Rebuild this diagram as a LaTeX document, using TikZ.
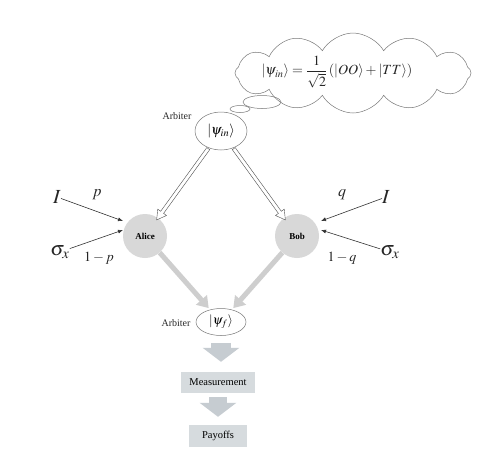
\documentclass[tikz,border=0pt]{standalone}
\usepackage{mathptmx}
\usepackage[no-math]{fontspec}
\setmainfont{Liberation Serif}
\usetikzlibrary{shapes.geometric,shapes.symbols,shapes.arrows,arrows.meta,calc}
\definecolor{nodegray}{RGB}{216,216,216}
\definecolor{arrgray}{RGB}{206,206,206}
\definecolor{boxgray}{RGB}{214,219,222}
\definecolor{blockgray}{RGB}{198,204,209}
\definecolor{linegray}{RGB}{120,120,120}
\tikzset{
 state/.style={ellipse, draw=linegray, line width=0.5pt, inner sep=0pt},
 player/.style={circle, fill=nodegray, minimum size=44pt, inner sep=0pt, font=\fontsize{9}{10}\selectfont\bfseries},
 hollowarrow/.style={single arrow, draw=black!70, fill=white, line width=0.4pt, text height=0pt, text depth=0pt, inner sep=1.6pt, single arrow head extend=3.6pt, single arrow tip angle=60, single arrow head indent=0pt, sloped, allow upside down, midway, anchor=center},
 grayarrow/.style={draw=arrgray, line width=5pt, shorten >=2pt, -{Triangle[length=11pt,width=14pt]}},
 thinarrow/.style={draw=black!80, line width=0.6pt, -{Latex[length=5pt,width=4pt]}},
 blockarrow/.style={draw=blockgray, -{Triangle[length=14pt,width=36pt]}},
 outbox/.style={rectangle, fill=boxgray, inner sep=0pt, font=\fontsize{10.5}{12}\selectfont},
 lbl/.style={inner sep=0pt, text=black!85},
}
\begin{document}
\begin{tikzpicture}[x=1pt,y=-1pt]
\fill[white] (0,0) rectangle (478,474);
\useasboundingbox (0,0) rectangle (478,474);
% thought cloud
\node[cloud, cloud puffs=12, cloud puff arc=120, cloud ignores aspect, draw=linegray, line width=0.5pt, minimum width=236pt, minimum height=80pt] (cloud) at (353,73) {};
\node[lbl, font=\fontsize{14}{16}\selectfont] (eq) at (337,72) {$\displaystyle |\psi_{in}\rangle=\frac{1}{\sqrt{2}}\left(|OO\rangle+|TT\rangle\right)$};
\node[state, minimum width=38pt, minimum height=13pt] (bub1) at (262,102) {};
\node[state, minimum width=20pt, minimum height=7pt] (bub2) at (240,109) {};
% arbiters
\node[state, minimum width=52pt, minimum height=38pt, font=\fontsize{14}{16}\selectfont] (top) at (221,131) {$|\psi_{in}\rangle$};
\node[lbl, font=\fontsize{10}{12}\selectfont] (arb1) at (177,116) {Arbiter};
\node[state, minimum width=50pt, minimum height=27pt, font=\fontsize{13}{15}\selectfont] (bot) at (221,322) {$|\psi_{f}\rangle$};
\node[lbl, font=\fontsize{10}{12}\selectfont] (arb2) at (176,323) {Arbiter};
% players
\node[player] (alice) at (145,236) {Alice};
\node[player] (bob) at (297,236) {Bob};
% hollow arrows
\path (top) -- (alice) node[hollowarrow, minimum height=88pt] {};
\path (top) -- (bob) node[hollowarrow, minimum height=88pt] {};
% gray arrows
\draw[grayarrow] (alice) -- (bot);
\draw[grayarrow] (bob) -- (bot);
% strategies
\node[lbl, font=\fontsize{20}{22}\selectfont] (IL) at (57,197) {$I$};
\node[lbl, font=\fontsize{20}{22}\selectfont] (SL) at (60,252) {$\sigma_x$};
\node[lbl, font=\fontsize{16}{18}\selectfont] (pL) at (97,195) {$p$};
\node[lbl, font=\fontsize{14}{16}\selectfont] (npL) at (99,258) {$1-p$};
\coordinate (tA1) at (123,221);
\coordinate (tA2) at (123,230);
\draw[thinarrow] (IL) -- (tA1);
\draw[thinarrow] (SL) -- (tA2);
\node[lbl, font=\fontsize{20}{22}\selectfont] (IR) at (386,197) {$I$};
\node[lbl, font=\fontsize{20}{22}\selectfont] (SR) at (390,252) {$\sigma_x$};
\node[lbl, font=\fontsize{16}{18}\selectfont] (qR) at (342,195) {$q$};
\node[lbl, font=\fontsize{14}{16}\selectfont] (nqR) at (342,258) {$1-q$};
\coordinate (tB1) at (321,221);
\coordinate (tB2) at (321,230);
\draw[thinarrow] (IR) -- (tB1);
\draw[thinarrow] (SR) -- (tB2);
% outputs
\node[outbox, minimum width=74pt, minimum height=21pt] (meas) at (218,382.5) {Measurement};
\node[outbox, minimum width=58pt, minimum height=22pt] (pay) at (218,436) {Payoffs};
\draw[blockarrow, line width=20pt, shorten <=7pt, shorten >=10pt] (bot.south) -- (bot.south |- meas.north);
\draw[blockarrow, line width=18pt, shorten <=4pt, shorten >=8pt] (meas.south) -- (meas.south |- pay.north);
\end{tikzpicture}
\end{document}
